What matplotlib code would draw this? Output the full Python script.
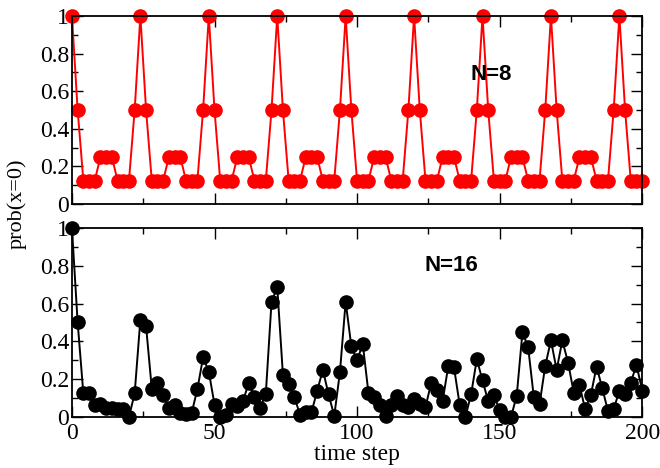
import numpy as np
import matplotlib
matplotlib.use("Agg")
import matplotlib.pyplot as plt
from matplotlib.ticker import MultipleLocator

plt.rcParams['font.family'] = 'Liberation Serif'
plt.rcParams['font.size'] = 17

# time steps 0..200 (every 2nd step)
czas = np.arange(0, 201, 2)

# N=8, prob(x=0)
prob8 = [1, 0.5, 0.125, 0.125, 0.125, 0.25, 0.25, 0.25, 0.125, 0.125, 0.125, 0.5,
         1, 0.5, 0.125, 0.125, 0.125, 0.25, 0.25, 0.25, 0.125, 0.125, 0.125, 0.5,
         1, 0.5, 0.125, 0.125, 0.125, 0.25, 0.25, 0.25, 0.125, 0.125, 0.125, 0.5,
         1, 0.5, 0.125, 0.125, 0.125, 0.25, 0.25, 0.25, 0.125, 0.125, 0.125, 0.5,
         1, 0.5, 0.125, 0.125, 0.125, 0.25, 0.25, 0.25, 0.125, 0.125, 0.125, 0.5,
         1, 0.5, 0.125, 0.125, 0.125, 0.25, 0.25, 0.25, 0.125, 0.125, 0.125, 0.5,
         1, 0.5, 0.125, 0.125, 0.125, 0.25, 0.25, 0.25, 0.125, 0.125, 0.125, 0.5,
         1, 0.5, 0.125, 0.125, 0.125, 0.25, 0.25, 0.25, 0.125, 0.125, 0.125, 0.5,
         1, 0.5, 0.125, 0.125, 0.125]

# N=16, prob(x=0)
prob16 = [1.0, 0.5, 0.125, 0.125, 0.065, 0.07, 0.05, 0.045, 0.04, 0.04,
          0.0, 0.125, 0.515, 0.48, 0.15, 0.178, 0.115, 0.05, 0.066, 0.022,
          0.015, 0.022, 0.147, 0.316, 0.24, 0.066, 0.0, 0.013, 0.07, 0.06,
          0.085, 0.179, 0.108, 0.046, 0.124, 0.608, 0.688, 0.223, 0.173, 0.108,
          0.01, 0.025, 0.024, 0.138, 0.249, 0.12, 0.006, 0.238, 0.61, 0.373,
          0.299, 0.386, 0.127, 0.104, 0.062, 0.005, 0.062, 0.113, 0.065, 0.052,
          0.095, 0.07, 0.052, 0.18, 0.143, 0.083, 0.27, 0.262, 0.064, 0.0,
          0.12, 0.306, 0.193, 0.083, 0.117, 0.037, 0.0, 0.0, 0.113, 0.447,
          0.37, 0.104, 0.067, 0.27, 0.405, 0.249, 0.405, 0.288, 0.129, 0.17,
          0.041, 0.117, 0.267, 0.152, 0.032, 0.042, 0.138, 0.12, 0.182, 0.276,
          0.14]

yticks = [0, 0.2, 0.4, 0.6, 0.8, 1]
ylabels = ["0", "0.2", "0.4", "0.6", "0.8", "1"]

fig = plt.figure(figsize=(6.6, 4.68), dpi=100)
ax1 = fig.add_axes([0.109, 0.564, 0.864, 0.402])
ax2 = fig.add_axes([0.109, 0.109, 0.864, 0.404])

ax1.plot(czas, prob8, color="red", marker="o", markersize=9.5, linewidth=1.4, clip_on=False)
ax2.plot(czas, prob16, color="black", marker="o", markersize=9.5, linewidth=1.4, clip_on=False)

for ax in (ax1, ax2):
    ax.set_xlim(0, 200)
    ax.set_ylim(0, 1)
    ax.set_yticks(yticks)
    ax.set_yticklabels(ylabels)
    ax.xaxis.set_major_locator(MultipleLocator(50))
    ax.xaxis.set_minor_locator(MultipleLocator(25))
    ax.yaxis.set_minor_locator(MultipleLocator(0.1))
    ax.tick_params(which="both", direction="in", top=True, right=True)
    ax.tick_params(which="major", length=8, width=1, pad=2)
    ax.tick_params(which="minor", length=4, width=1)
    ax.tick_params(axis="x", which="major", pad=4)
    for s in ax.spines.values():
        s.set_linewidth(1.3)

ax1.set_xticklabels([])
ax1.text(147, 0.69, "N=8", fontfamily="Liberation Sans", fontweight="bold",
         fontsize=16, ha="center", va="center")
ax2.text(133, 0.80, "N=16", fontfamily="Liberation Sans", fontweight="bold",
         fontsize=16, ha="center", va="center")

ax2.set_xlabel("time step", labelpad=0)
fig.text(0.025, 0.565, "prob(x=0)", rotation=90, ha="center", va="center", fontsize=16)

plt.savefig("out.png", dpi=100)
